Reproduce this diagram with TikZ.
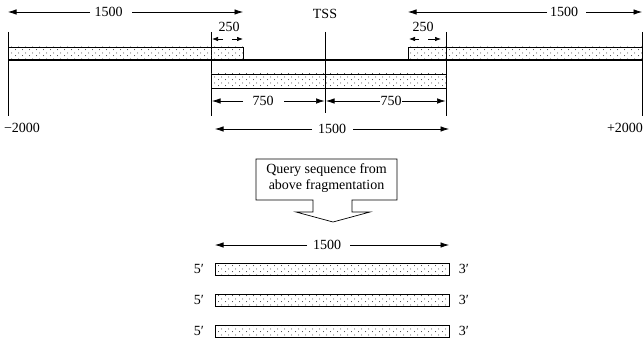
\documentclass[tikz,border=0pt]{standalone}
\usepackage{fontspec}
\setmainfont{Liberation Serif}
\usetikzlibrary{arrows.meta,patterns.meta}
\tikzdeclarepattern{
  name=bardots,
  type=uncolored,
  bottom left={(0pt,0pt)},
  top right={(7pt,6pt)},
  tile size={(7pt,6pt)},
  code={\fill (1.75pt,1.5pt) circle (0.55pt); \fill (5.25pt,4.5pt) circle (0.55pt);}
}
\begin{document}
\begin{tikzpicture}[x=1pt,y=-1pt,
  every node/.style={font=\fontsize{14}{16}\selectfont, inner sep=0pt},
  bar/.style={draw, line width=0.8pt, pattern=bardots, pattern color=black!80},
  dim/.style={line width=0.7pt, -{Latex[length=8.5pt,width=5.5pt]}},
  small/.style={line width=0.7pt, -{Latex[length=6pt,width=4.5pt]}},
  vline/.style={line width=0.6pt},
  callout/.style={draw, line width=0.7pt}]
\useasboundingbox (0,0) rectangle (644,339);

% vertical reference lines
\coordinate (v1t) at (8,32);    \coordinate (v1b) at (8,116);
\coordinate (v2t) at (211,32);  \coordinate (v2b) at (211,116);
\coordinate (v3t) at (325,32);  \coordinate (v3b) at (325,113);
\coordinate (v4t) at (446,32);  \coordinate (v4b) at (446,116);
\coordinate (v5t) at (642.5,32);  \coordinate (v5b) at (642.5,116);
\foreach \i in {1,...,5} {\draw[vline] (v\i t) -- (v\i b);}

% bars
\draw[bar] (8,47) rectangle (243,60);
\draw[bar] (408,47) rectangle (642,60);
\draw[bar] (211,74) rectangle (446,88);
\draw[line width=1.6pt] (8,60) -- (642,60);

% top labels
\node (tss) at (325,14) {TSS};
\node (ta) at (108.5,12) {1500};
\draw[dim] (90,12) -- (8,12);
\draw[dim] (132,12) -- (243,12);
\node (tb) at (564,12) {1500};
\draw[dim] (547,12) -- (408,12);
\draw[dim] (586,12) -- (642,12);

\node (q1) at (229,27) {250};
\draw[small] (223,39) -- (212,39);
\draw[small] (232,39) -- (243,39);
\node (q2) at (423,27) {250};
\draw[small] (419,39) -- (409,39);
\draw[small] (428,39) -- (441,39);

% lower dimension lines
\node (ma) at (263,101) {750};
\draw[dim] (243,101) -- (212,101);
\draw[dim] (284,101) -- (324.5,101);
\node (mb) at (391,101) {750};
\draw[dim] (380,101) -- (326,101);
\draw[dim] (402,101) -- (445.5,101);
\node (mc) at (332,129) {1500};
\draw[dim] (312,129) -- (215,129);
\draw[dim] (353,129) -- (449,129);

\node (m2000) at (22,128) {−2000};
\node (p2000) at (625,128) {+2000};

% callout
\node[align=center] (qs) at (326.5,178) {Query sequence from\\above fragmentation};
\draw[callout] (313,200) -- (256,200) -- (256,159) -- (397,159) -- (397,200) -- (352,200)
  -- (352,212) -- (370,212) -- (333,222) -- (296,212) -- (313,212) -- cycle;

% query fragments
\node (lc) at (327,245) {1500};
\draw[dim] (307,245) -- (215,245);
\draw[dim] (350,245) -- (449,245);
\foreach \y/\n in {269/1,300/2,331/3} {
  \draw[bar] (215,\y-6) rectangle (449,\y+6);
  \node (f\n) at (199,\y) {5′};
  \node (t\n) at (464,\y) {3′};
}
\end{tikzpicture}
\end{document}
